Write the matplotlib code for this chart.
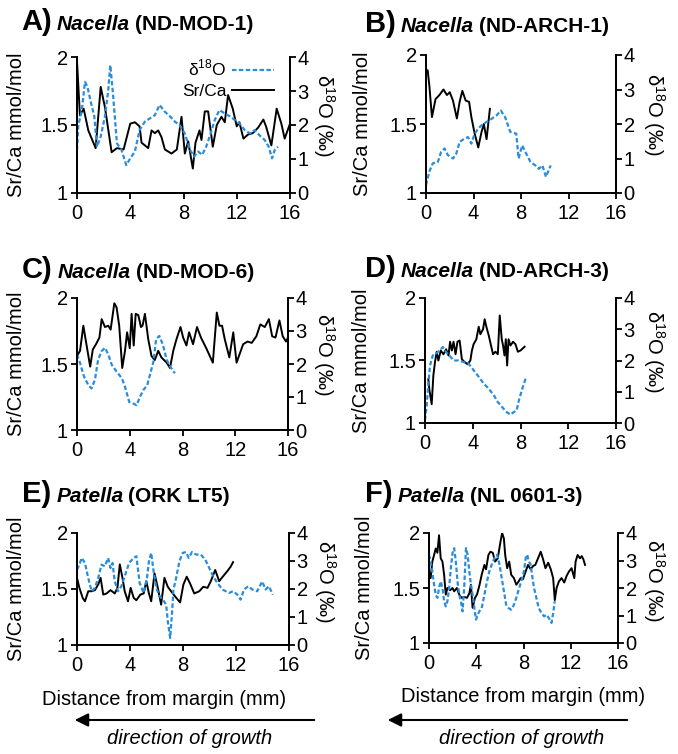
import matplotlib
matplotlib.use('Agg')
import matplotlib.pyplot as plt
from matplotlib.lines import Line2D
import numpy as np

plt.rcParams['font.family'] = ['Liberation Sans', 'DejaVu Sans']
plt.rcParams['mathtext.fontset'] = 'custom'
plt.rcParams['mathtext.rm'] = 'Liberation Sans'

# data: (distance mm, value)
a_srca = [(0, 1.97), (0.22, 1.57), (0.5, 1.62), (0.85, 1.46), (1.4, 1.33), (1.78, 1.78), (2.1, 1.63),
          (2.6, 1.30), (3.0, 1.33), (3.5, 1.32), (4.0, 1.51), (4.35, 1.52), (4.7, 1.49), (4.85, 1.37),
          (5.35, 1.33), (5.6, 1.46), (5.85, 1.44), (6.1, 1.46), (6.35, 1.41), (6.6, 1.32), (7.1, 1.29),
          (7.5, 1.32), (7.85, 1.56), (8.1, 1.29), (8.35, 1.38), (8.7, 1.18), (8.9, 1.37), (9.2, 1.46),
          (9.35, 1.39), (9.6, 1.60), (9.85, 1.60), (10.2, 1.34), (10.5, 1.50), (10.85, 1.56), (11.1, 1.52),
          (11.35, 1.72), (11.7, 1.62), (12.0, 1.49), (12.2, 1.52), (12.5, 1.40), (12.85, 1.43), (13.2, 1.44),
          (13.6, 1.48), (14.0, 1.54), (14.2, 1.49), (14.6, 1.35), (15.0, 1.62), (15.35, 1.51), (15.6, 1.40),
          (16.0, 1.51)]
a_d18o = [(0, 1.26), (0.1, 2.0), (0.35, 2.4), (0.6, 3.27), (0.78, 3.13), (1.0, 2.74), (1.3, 2.25),
          (1.5, 1.36), (1.78, 1.66), (2.1, 2.25), (2.35, 3.03), (2.5, 3.76), (2.7, 2.93), (3.0, 1.46),
          (3.35, 1.26), (3.7, 0.82), (4.0, 1.02), (4.35, 1.22), (4.7, 1.85), (5.1, 2.1), (5.5, 2.2),
          (5.85, 2.29), (6.2, 2.59), (6.6, 2.39), (7.0, 2.25), (7.35, 2.1), (7.7, 2.0), (8.1, 1.75),
          (8.5, 1.26), (8.8, 1.07), (9.1, 1.22), (9.4, 1.12), (9.7, 1.36), (10.0, 1.7), (10.35, 2.15),
          (10.7, 2.44), (11.1, 2.34), (11.5, 2.25), (11.85, 2.15), (12.2, 2.05), (12.6, 1.85), (13.0, 1.75),
          (13.35, 1.85), (13.7, 1.7), (14.1, 1.56), (14.4, 1.36), (14.65, 1.02), (14.85, 1.26), (15.1, 1.36)]

b_srca = [(0, 1.87), (0.14, 1.89), (0.28, 1.78), (0.5, 1.55), (0.8, 1.68), (1.13, 1.71), (1.47, 1.75),
          (1.76, 1.71), (2.0, 1.73), (2.27, 1.67), (2.6, 1.54), (2.83, 1.66), (3.06, 1.74), (3.34, 1.67),
          (3.63, 1.66), (3.82, 1.55), (4.1, 1.43), (4.4, 1.33), (4.67, 1.44), (4.87, 1.50), (5.1, 1.39),
          (5.38, 1.61)]
b_d18o = [(0, 0.23), (0.28, 0.62), (0.57, 0.86), (1.0, 0.9), (1.27, 1.19), (1.56, 1.29), (1.84, 1.1),
          (2.27, 1.0), (2.55, 1.14), (2.83, 1.48), (3.26, 1.58), (3.54, 1.62), (3.82, 1.43), (4.1, 1.72),
          (4.4, 1.87), (4.67, 1.96), (5.1, 2.06), (5.52, 2.15), (5.95, 2.25), (6.3, 2.39), (6.66, 2.2),
          (7.1, 1.77), (7.6, 1.72), (7.8, 1.0), (8.1, 1.38), (8.5, 1.1), (8.8, 0.9), (9.2, 0.8), (9.5, 0.7),
          (9.8, 0.8), (10.1, 0.47), (10.5, 0.8)]

c_srca = [(0, 1.56), (0.23, 1.60), (0.48, 1.79), (0.73, 1.64), (1.0, 1.48), (1.2, 1.61), (1.44, 1.65),
          (1.7, 1.70), (1.87, 1.84), (2.12, 1.78), (2.37, 1.79), (2.55, 1.76), (2.83, 1.96), (3.0, 1.93),
          (3.2, 1.79), (3.43, 1.47), (3.64, 1.60), (3.8, 1.74), (4.0, 1.62), (4.14, 1.88), (4.3, 1.64),
          (4.45, 1.88), (4.65, 1.87), (4.85, 1.78), (4.97, 1.79), (5.15, 1.88), (5.4, 1.69), (5.65, 1.56),
          (5.9, 1.53), (6.16, 1.60), (6.4, 1.55), (6.8, 1.51), (7.05, 1.47), (7.3, 1.60), (7.55, 1.69),
          (7.85, 1.78), (8.05, 1.70), (8.3, 1.64), (8.5, 1.74), (8.8, 1.65), (9.1, 1.78), (9.4, 1.70),
          (9.8, 1.62), (10.3, 1.51), (10.6, 1.89), (10.8, 1.79), (11.0, 1.79), (11.2, 1.69), (11.55, 1.55),
          (11.85, 1.74), (12.1, 1.51), (12.35, 1.58), (12.6, 1.65), (12.93, 1.67), (13.25, 1.66),
          (13.6, 1.71), (13.9, 1.80), (14.24, 1.78), (14.55, 1.84), (14.8, 1.71), (15.05, 1.70),
          (15.35, 1.83), (15.6, 1.71), (15.85, 1.67), (16.0, 1.70)]
c_d18o = [(0, 2.29), (0.23, 2.03), (0.53, 1.62), (0.86, 1.36), (1.1, 1.26), (1.36, 1.52), (1.6, 2.13),
          (1.87, 2.39), (2.12, 2.49), (2.37, 2.29), (2.63, 1.98), (3.0, 1.77), (3.4, 1.57), (3.64, 1.31),
          (3.96, 0.85), (4.27, 0.80), (4.52, 0.75), (4.77, 1.0), (5.03, 1.21), (5.33, 1.36), (5.53, 1.67),
          (5.8, 2.08), (6.0, 2.75), (6.24, 2.85), (6.5, 2.6), (6.8, 2.13), (7.05, 1.93), (7.42, 1.72)]

d_srca = [(0.28, 1.35), (0.36, 1.27), (0.56, 1.15), (0.7, 1.38), (0.84, 1.49), (0.98, 1.57), (1.12, 1.50),
          (1.32, 1.58), (1.54, 1.55), (1.77, 1.59), (1.97, 1.54), (2.1, 1.65), (2.25, 1.58), (2.39, 1.65),
          (2.56, 1.55), (2.72, 1.65), (2.9, 1.66), (3.09, 1.51), (3.29, 1.49), (3.57, 1.47), (3.8, 1.50),
          (3.93, 1.58), (4.07, 1.63), (4.3, 1.67), (4.5, 1.77), (4.64, 1.71), (4.86, 1.75), (5.0, 1.83),
          (5.14, 1.77), (5.34, 1.70), (5.53, 1.62), (5.7, 1.55), (5.9, 1.57), (6.1, 1.55), (6.26, 1.86),
          (6.43, 1.67), (6.54, 1.62), (6.66, 1.54), (6.77, 1.67), (6.88, 1.46), (7.0, 1.67), (7.16, 1.62),
          (7.38, 1.65), (7.58, 1.63), (7.78, 1.57), (8.0, 1.58), (8.34, 1.61)]
d_d18o = [(0, 0.09), (0.14, 0.56), (0.28, 1.25), (0.42, 1.84), (0.65, 2.16), (0.93, 2.22), (1.2, 2.32),
          (1.5, 2.43), (1.77, 2.27), (2.05, 2.16), (2.39, 2.0), (2.81, 2.0), (3.23, 1.95), (3.65, 1.9),
          (4.07, 1.69), (4.5, 1.48), (4.92, 1.26), (5.34, 1.1), (5.76, 0.89), (6.1, 0.67), (6.46, 0.51),
          (6.83, 0.35), (7.16, 0.27), (7.44, 0.35), (7.67, 0.4), (7.87, 0.73), (8.15, 1.1), (8.43, 1.42)]

e_srca = [(0, 1.6), (0.18, 1.51), (0.43, 1.42), (0.6, 1.39), (0.85, 1.48), (1.1, 1.48), (1.35, 1.49),
          (1.6, 1.54), (1.78, 1.6), (1.98, 1.45), (2.23, 1.46), (2.53, 1.49), (2.85, 1.46), (3.05, 1.51),
          (3.23, 1.72), (3.43, 1.6), (3.6, 1.48), (3.85, 1.39), (4.05, 1.51), (4.28, 1.42), (4.48, 1.40),
          (4.78, 1.45), (5.03, 1.46), (5.23, 1.57), (5.43, 1.46), (5.6, 1.39), (5.85, 1.64), (6.1, 1.51),
          (6.35, 1.36), (6.6, 1.6), (6.85, 1.52), (7.1, 1.48), (7.43, 1.43), (7.78, 1.38), (8.03, 1.54),
          (8.28, 1.61), (8.53, 1.55), (8.85, 1.46), (9.23, 1.48), (9.53, 1.52), (9.85, 1.51), (10.1, 1.57),
          (10.43, 1.67), (10.73, 1.57), (11.0, 1.61), (11.35, 1.66), (11.6, 1.70), (11.78, 1.74)]
e_d18o = [(0, 2.69), (0.18, 2.87), (0.35, 3.11), (0.6, 2.93), (0.85, 2.39), (1.1, 1.92), (1.35, 2.04),
          (1.6, 2.39), (1.85, 2.87), (2.1, 2.81), (2.35, 3.11), (2.53, 2.75), (2.68, 2.93), (2.85, 2.27),
          (3.1, 1.92), (3.35, 2.1), (3.6, 2.45), (3.93, 2.93), (4.28, 3.11), (4.48, 3.17), (4.73, 2.21),
          (5.03, 1.86), (5.28, 2.39), (5.43, 2.99), (5.6, 3.29), (5.78, 2.63), (5.98, 2.04), (6.23, 1.74),
          (6.48, 1.62), (6.73, 1.44), (6.85, 0.85), (7.03, 0.25), (7.18, 1.2), (7.28, 1.98), (7.48, 2.39),
          (7.73, 2.99), (7.98, 3.29), (8.23, 3.32), (8.43, 3.11), (8.68, 3.32), (8.98, 3.23), (9.35, 3.23),
          (9.68, 3.05), (9.98, 2.75), (10.28, 2.45), (10.6, 2.21), (10.98, 1.98), (11.23, 1.92),
          (11.48, 1.86), (11.78, 1.92), (12.1, 1.8), (12.35, 1.62), (12.6, 1.98), (12.93, 2.1),
          (13.23, 1.98), (13.6, 1.92), (13.98, 2.27), (14.23, 1.98), (14.48, 2.1), (14.78, 1.8)]

f_srca = [(0, 1.65), (0.14, 1.59), (0.28, 1.74), (0.43, 1.80), (0.57, 1.86), (0.71, 1.82), (0.85, 1.98),
          (0.99, 1.77), (1.14, 1.74), (1.28, 1.62), (1.42, 1.44), (1.56, 1.50), (1.79, 1.48), (1.99, 1.50),
          (2.13, 1.47), (2.36, 1.50), (2.56, 1.44), (2.76, 1.41), (2.98, 1.42), (3.21, 1.41), (3.41, 1.45),
          (3.55, 1.53), (3.69, 1.32), (3.89, 1.41), (4.06, 1.44), (4.26, 1.52), (4.46, 1.62), (4.69, 1.71),
          (4.83, 1.67), (5.03, 1.80), (5.2, 1.83), (5.4, 1.82), (5.6, 1.74), (5.82, 1.77), (6.05, 1.92),
          (6.19, 2.0), (6.34, 1.95), (6.45, 1.80), (6.62, 1.68), (6.79, 1.74), (6.96, 1.62), (7.19, 1.59),
          (7.39, 1.53), (7.59, 1.56), (7.76, 1.59), (7.95, 1.58), (8.15, 1.64), (8.38, 1.71), (8.61, 1.67),
          (8.81, 1.70), (9.0, 1.71), (9.23, 1.77), (9.46, 1.83), (9.66, 1.76), (9.86, 1.68), (10.09, 1.73),
          (10.31, 1.67), (10.51, 1.59), (10.65, 1.39), (10.8, 1.50), (11.0, 1.56), (11.22, 1.59),
          (11.45, 1.55), (11.65, 1.61), (11.85, 1.65), (12.07, 1.68), (12.3, 1.59), (12.41, 1.74),
          (12.58, 1.80), (12.78, 1.77), (12.93, 1.79), (13.07, 1.76), (13.21, 1.71)]
f_d18o = [(0, 3.21), (0.14, 2.97), (0.28, 2.61), (0.43, 2.12), (0.57, 1.76), (0.71, 1.64), (0.85, 2.0),
          (0.99, 2.24), (1.14, 2.0), (1.28, 1.52), (1.42, 1.33), (1.56, 1.52), (1.7, 2.0), (1.85, 2.73),
          (1.99, 3.27), (2.13, 3.45), (2.27, 2.97), (2.41, 2.24), (2.56, 1.76), (2.7, 1.52), (2.84, 1.15),
          (2.98, 2.0), (3.13, 3.45), (3.27, 3.21), (3.41, 2.61), (3.55, 2.12), (3.69, 1.76), (3.84, 1.27),
          (3.98, 0.85), (4.12, 1.03), (4.26, 1.15), (4.46, 1.27), (4.69, 1.76), (4.91, 2.24), (5.11, 2.61),
          (5.31, 2.85), (5.54, 3.09), (5.77, 3.21), (5.97, 2.85), (6.11, 2.48), (6.25, 2.12), (6.39, 1.76),
          (6.53, 1.39), (6.73, 1.27), (6.96, 1.21), (7.19, 1.39), (7.39, 1.64), (7.59, 1.94), (7.81, 2.24),
          (8.04, 2.61), (8.21, 3.15), (8.32, 3.21), (8.44, 2.97), (8.61, 2.85), (8.72, 2.48), (8.89, 2.0),
          (9.09, 1.64), (9.29, 1.27), (9.52, 1.09), (9.74, 0.97), (9.94, 1.03), (10.14, 0.91), (10.37, 0.73),
          (10.51, 1.09), (10.65, 1.52)]

letters = ['A)', 'B)', 'C)', 'D)', 'E)', 'F)']
genera = ['Nacella', 'Nacella', 'Nacella', 'Nacella', 'Patella', 'Patella']
specimens = ['(ND-MOD-1)', '(ND-ARCH-1)', '(ND-MOD-6)', '(ND-ARCH-3)', '(ORK LT5)', '(NL 0601-3)']
srca_series = [a_srca, b_srca, c_srca, d_srca, e_srca, f_srca]
d18o_series = [a_d18o, b_d18o, c_d18o, d_d18o, e_d18o, f_d18o]

x_ticks = [0, 4, 8, 12, 16]
sr_ticks = [1, 1.5, 2]
o_ticks = [0, 1, 2, 3, 4]

BLUE = '#2a8ddb'
W, H = 678, 754
# axes boxes in pixels: left, top, right, bottom
boxes = [(77, 57, 290, 193), (426, 55, 616, 193),
         (77, 298, 288, 430), (425, 298, 616, 423),
         (77, 533, 289, 645), (429, 533, 618, 643)]
title_pos = [(21, 30), (365, 32), (22, 278), (365, 277), (22, 502), (365, 502)]
ylab_x = [(-0.24, 1.16), (-0.285, 1.20), (-0.24, 1.17), (-0.285, 1.20), (-0.24, 1.17), (-0.29, 1.19)]

fig = plt.figure(figsize=(W / 100, H / 100), dpi=100)
fs = 14.5

for i in range(6):
    l, t, r, b = boxes[i]
    ax = fig.add_axes([l / W, 1 - b / H, (r - l) / W, (b - t) / H])
    ax2 = ax.twinx()
    sx, sy = np.array(srca_series[i]).T
    ox, oy = np.array(d18o_series[i]).T
    ax.plot(sx, sy, color='black', lw=1.4)
    ax2.plot(ox, oy, color=BLUE, lw=1.6, ls=(0, (2.0, 1.1)))

    ax.set_xlim(0, 16)
    ax.set_ylim(1, 2)
    ax2.set_ylim(0, 4)
    ax.set_xticks(x_ticks)
    ax.set_yticks(sr_ticks)
    ax.set_yticklabels([f'{v:g}' for v in sr_ticks])
    ax2.set_yticks(o_ticks)
    for a in (ax, ax2):
        a.spines['top'].set_visible(False)
        for s in a.spines.values():
            s.set_linewidth(1.3)
    ax.tick_params(axis='both', direction='out', length=4, width=1.3, labelsize=fs)
    ax.tick_params(axis='x', pad=4)
    ax.tick_params(axis='y', pad=2.5)
    ax2.tick_params(axis='y', direction='out', length=4, width=1.3, labelsize=fs, pad=1.5)

    ax.set_ylabel('Sr/Ca mmol/mol', fontsize=fs)
    ax.yaxis.set_label_coords(ylab_x[i][0], 0.5)
    ax2.set_ylabel('δ$^{18}$O (‰)', fontsize=fs, rotation=270, va='center')
    ax2.yaxis.set_label_coords(ylab_x[i][1], 0.57)

    if i >= 4:
        ax.set_xlabel('Distance from margin (mm)', fontsize=fs)
        ax.xaxis.set_label_coords(0.41 if i == 4 else 0.5, -0.40)

    if i == 0:
        handles = [Line2D([], [], color=BLUE, lw=1.6, ls=(0, (2.0, 1.1))),
                   Line2D([], [], color='black', lw=1.4)]
        ax.legend(handles, ['δ$^{18}$O', 'Sr/Ca'], loc='upper right', bbox_to_anchor=(0.98, 1.08),
                  frameon=False, markerfirst=False, fontsize=12.5, handlelength=2.4,
                  handletextpad=0.3, labelspacing=0.3, borderpad=0.2)

# panel titles built from pieces
renderer = fig.canvas.get_renderer()
for i in range(6):
    x, y = title_pos[i]
    parts = [(letters[i], 21, 'bold', 'normal', 5),
             (genera[i], 15, 'bold', 'italic', 5),
             (specimens[i], 15, 'bold', 'normal', 0)]
    for txt, size, weight, style, gap in parts:
        tx = fig.text(x / W, 1 - y / H, txt, fontsize=size, fontweight=weight,
                      fontstyle=style, va='baseline', ha='left')
        bb = tx.get_window_extent(renderer)
        x = bb.x1 + gap

# growth direction arrows
for x0, x1, xc in [(317, 72, 190), (630, 385, 522)]:
    fig.add_artist(matplotlib.patches.FancyArrowPatch(
        (x0 / W, 1 - 720 / H), (x1 / W, 1 - 720 / H), transform=fig.transFigure,
        arrowstyle='-|>', mutation_scale=20, lw=1.5, color='black'))
    fig.text(xc / W, 1 - 739 / H, 'direction of growth', fontsize=14.5, fontstyle='italic',
             ha='center', va='center')

fig.savefig('out.png', dpi=100)
